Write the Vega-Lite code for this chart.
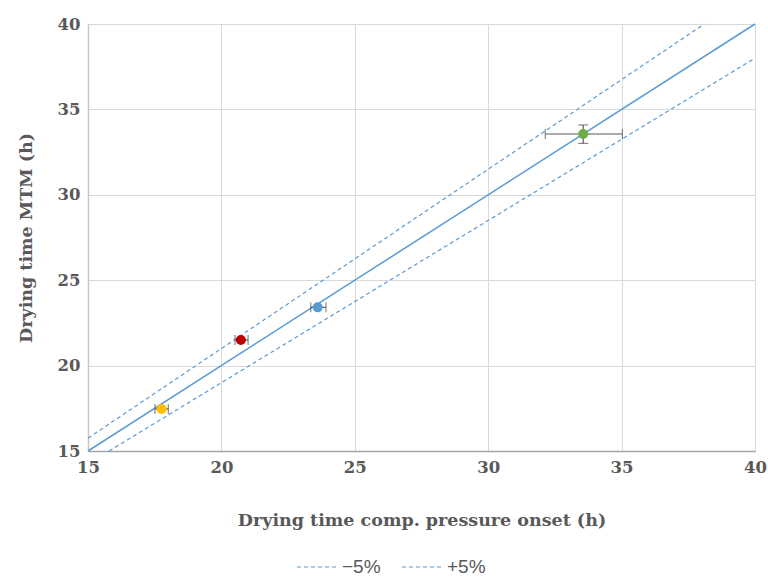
{
  "$schema": "https://vega.github.io/schema/vega-lite/v6.json",
  "width": 667,
  "height": 427,
  "autosize": {"type": "none"},
  "padding": {"left": 88, "top": 24, "right": 13, "bottom": 126},
  "background": "white",
  "config": {
    "view": {"stroke": null},
    "font": "DejaVu Serif",
    "axis": {
      "labelFont": "DejaVu Serif",
      "labelFontSize": 16.5,
      "labelFontWeight": "bold",
      "labelColor": "#595959",
      "labelFlush": false,
      "titleFont": "DejaVu Serif",
      "titleFontSize": 17.5,
      "titleFontWeight": "bold",
      "titleColor": "#595959",
      "gridColor": "#d9d9d9",
      "gridWidth": 1,
      "ticks": false
    }
  },
  "datasets": {
    "points": [
      {"sample": "A", "x": 17.76, "y": 17.46, "xlo": 17.51, "xhi": 18.01},
      {"sample": "B", "x": 20.73, "y": 21.5, "xlo": 20.51, "xhi": 21.0},
      {"sample": "C", "x": 23.61, "y": 23.41, "xlo": 23.35, "xhi": 23.92},
      {"sample": "D", "x": 33.56, "y": 33.56, "xlo": 32.14, "xhi": 35.03, "ylo": 33.01, "yhi": 34.09}
    ],
    "diag": [
      {"x": 15, "y": 15},
      {"x": 40, "y": 40}
    ],
    "bands": [
      {"series": "−5%", "x": 15.79, "y": 15},
      {"series": "−5%", "x": 40, "y": 38},
      {"series": "+5%", "x": 15, "y": 15.75},
      {"series": "+5%", "x": 38.1, "y": 40}
    ]
  },
  "layer": [
    {
      "data": {"name": "diag"},
      "mark": {"type": "line", "color": "#5B9BD5", "strokeWidth": 1.5},
      "encoding": {
        "x": {
          "field": "x", "type": "quantitative",
          "scale": {"domain": [15, 40], "nice": false, "zero": false},
          "axis": {"values": [15, 20, 25, 30, 35, 40], "title": "Drying time comp. pressure onset (h)", "titlePadding": 36, "labelPadding": 8, "domainColor": "#a6a6a6", "domainWidth": 1.5}
        },
        "y": {
          "field": "y", "type": "quantitative",
          "scale": {"domain": [15, 40], "nice": false, "zero": false},
          "axis": {"values": [15, 20, 25, 30, 35, 40], "title": "Drying time MTM (h)", "titlePadding": 22, "labelPadding": 8, "domainColor": "#c8c8c8", "domainWidth": 1.5}
        }
      }
    },
    {
      "data": {"name": "bands"},
      "mark": {"type": "line", "strokeDash": [4, 3], "strokeWidth": 1.2},
      "encoding": {
        "x": {"field": "x", "type": "quantitative"},
        "y": {"field": "y", "type": "quantitative"},
        "color": {
          "field": "series", "type": "nominal",
          "scale": {"domain": ["−5%", "+5%"], "range": ["#5B9BD5", "#5B9BD5"]},
          "legend": {
            "title": null,
            "orient": "none",
            "direction": "horizontal",
            "legendX": 208,
            "legendY": 522,
            "symbolType": "stroke",
            "symbolDash": [4, 3],
            "symbolStrokeWidth": 1.2,
            "symbolSize": 1600,
            "labelFont": "Liberation Sans",
            "labelFontSize": 19,
            "labelColor": "#595959",
            "labelOffset": 4,
            "columnPadding": 18
          }
        }
      }
    },
    {
      "mark": {"type": "rule", "color": "#404040", "strokeWidth": 1.5},
      "encoding": {"y": {"datum": 40}}
    },
    {
      "data": {"name": "points"},
      "mark": {"type": "rule", "color": "#595959", "strokeWidth": 1.2},
      "encoding": {
        "x": {"field": "xlo", "type": "quantitative"},
        "x2": {"field": "xhi"},
        "y": {"field": "y", "type": "quantitative"}
      }
    },
    {
      "data": {"name": "points"},
      "transform": [{"filter": "isValid(datum.ylo)"}],
      "mark": {"type": "rule", "color": "#595959", "strokeWidth": 1.2},
      "encoding": {
        "x": {"field": "x", "type": "quantitative"},
        "y": {"field": "ylo", "type": "quantitative"},
        "y2": {"field": "yhi"}
      }
    },
    {
      "data": {"name": "points"},
      "mark": {"type": "tick", "orient": "vertical", "color": "#595959", "size": 10, "thickness": 1.2},
      "encoding": {
        "x": {"field": "xlo", "type": "quantitative"},
        "y": {"field": "y", "type": "quantitative"}
      }
    },
    {
      "data": {"name": "points"},
      "mark": {"type": "tick", "orient": "vertical", "color": "#595959", "size": 10, "thickness": 1.2},
      "encoding": {
        "x": {"field": "xhi", "type": "quantitative"},
        "y": {"field": "y", "type": "quantitative"}
      }
    },
    {
      "data": {"name": "points"},
      "transform": [{"filter": "isValid(datum.ylo)"}],
      "mark": {"type": "tick", "orient": "horizontal", "color": "#595959", "size": 10, "thickness": 1.2},
      "encoding": {
        "x": {"field": "x", "type": "quantitative"},
        "y": {"field": "ylo", "type": "quantitative"}
      }
    },
    {
      "data": {"name": "points"},
      "transform": [{"filter": "isValid(datum.ylo)"}],
      "mark": {"type": "tick", "orient": "horizontal", "color": "#595959", "size": 10, "thickness": 1.2},
      "encoding": {
        "x": {"field": "x", "type": "quantitative"},
        "y": {"field": "yhi", "type": "quantitative"}
      }
    },
    {
      "data": {"name": "points"},
      "mark": {"type": "point", "filled": true, "opacity": 1, "size": 100},
      "encoding": {
        "x": {"field": "x", "type": "quantitative"},
        "y": {"field": "y", "type": "quantitative"},
        "fill": {
          "field": "sample", "type": "nominal",
          "scale": {"domain": ["A", "B", "C", "D"], "range": ["#FFC000", "#C00000", "#5B9BD5", "#70AD47"]},
          "legend": null
        },
        "color": {"value": null}
      }
    }
  ]
}
